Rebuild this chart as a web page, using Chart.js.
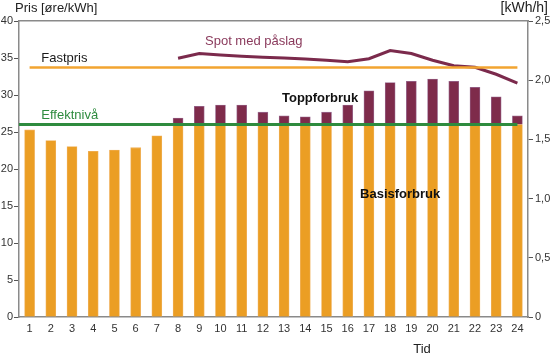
<!DOCTYPE html>
<html>
<head>
<meta charset="utf-8">
<script src="https://cdn.jsdelivr.net/npm/chart.js@4/dist/chart.umd.min.js"></script>
<style>
  html, body { margin: 0; padding: 0; background: #fff; }
  #wrap { width: 550px; height: 354px; }
</style>
</head>
<body>
<div id="wrap"><canvas id="chart"></canvas></div>
<script>
// ====== DATA ======
const hours = [1, 2, 3, 4, 5, 6, 7, 8, 9, 10, 11, 12, 13, 14, 15, 16, 17, 18, 19, 20, 21, 22, 23, 24];
// total forbruk per time [kWh/h]
const forbruk = [1.58, 1.49, 1.44, 1.40, 1.41, 1.43, 1.53, 1.68, 1.78, 1.79, 1.79, 1.73,
                 1.70, 1.69, 1.73, 1.79, 1.91, 1.98, 1.99, 2.01, 1.99, 1.94, 1.86, 1.70];
const effektniva = 1.625;      // kWh/h
const fastpris = 33.7;         // øre/kWh
const spotHours = [8, 9, 10, 11, 12, 13, 14, 15, 16, 17, 18, 19, 20, 21, 22, 23, 24];
const spotPris = [34.96, 35.6, 35.4, 35.25, 35.1, 35.0, 34.85, 34.7, 34.5, 34.9, 36.0, 35.6, 34.7, 33.95, 33.75, 32.8, 31.6];
const leftTicks = [0, 5, 10, 15, 20, 25, 30, 35, 40];
const rightTicks = [0, 0.5, 1.0, 1.5, 2.0, 2.5];

// Basis = opp til effektnivå, topp = resten
const basis = forbruk.map(v => Math.min(v, effektniva));
const topp = forbruk.map((v, i) => v - basis[i]);

const FONT = '"Liberation Sans", Arial, Helvetica, sans-serif';
const AXIS = '#8a8a8a';

// tekster i diagrammet
const textPlugin = {
  id: 'texts',
  afterDatasetsDraw(chart) {
    const { ctx, scales, chartArea } = chart;
    const x = scales.x, y = scales.y;
    ctx.save();
    ctx.textBaseline = 'middle';
    ctx.textAlign = 'left';
    const put = (txt, xv, yv, color, bold) => {
      ctx.font = (bold ? 'bold ' : '') + '13px ' + FONT;
      ctx.fillStyle = color;
      ctx.fillText(txt, x.getPixelForValue(xv), y.getPixelForValue(yv));
    };
    put('Fastpris', 1.55, 34.9, '#1a1a1a', false);
    put('Effektnivå', 1.55, 27.3, '#2e8b3e', false);
    put('Spot med påslag', 9.27, 37.2, '#8a3a5c', false);
    put('Toppforbruk', 12.9, 29.6, '#111', true);
    put('Basisforbruk', 16.58, 16.5, '#111', true);

    ctx.font = '13px ' + FONT;
    ctx.fillStyle = '#222';
    ctx.fillText('Pris [øre/kWh]', chartArea.left - 4, chartArea.top - 13);
    ctx.textAlign = 'center';
    ctx.fillText('Tid', x.getPixelForValue(19.5), chartArea.bottom + 32);
    ctx.textAlign = 'right';
    ctx.font = '14px ' + FONT;
    ctx.fillText('[kWh/h]', chartArea.right + 20, chartArea.top - 13);
    ctx.restore();
  }
};

new Chart(document.getElementById('chart'), {
  data: {
    datasets: [
      {
        type: 'line', label: 'Fastpris', yAxisID: 'y', order: 1,
        data: [{ x: hours[0], y: fastpris }, { x: hours[hours.length - 1], y: fastpris }],
        borderColor: '#f2a431', borderWidth: 2.5, pointRadius: 0
      },
      {
        type: 'line', label: 'Effektnivå', yAxisID: 'y2', order: 1,
        data: [{ x: 0.5, y: effektniva }, { x: hours[hours.length - 1], y: effektniva }],
        borderColor: '#2e8b3e', borderWidth: 3, pointRadius: 0
      },
      {
        type: 'line', label: 'Spot med påslag', yAxisID: 'y', order: 1,
        data: spotHours.map((h, i) => ({ x: h, y: spotPris[i] })),
        borderColor: '#7b2a4c', borderWidth: 3, pointRadius: 0, tension: 0
      },
      {
        type: 'bar', label: 'Basisforbruk', yAxisID: 'y2', stack: 's', order: 2,
        data: hours.map((h, i) => ({ x: h, y: basis[i] })),
        backgroundColor: '#eb9e24', borderColor: '#f0b15a', borderWidth: 0.8, barThickness: 10
      },
      {
        type: 'bar', label: 'Toppforbruk', yAxisID: 'y2', stack: 's', order: 2,
        data: hours.map((h, i) => ({ x: h, y: topp[i] })),
        backgroundColor: '#7e2b4b', borderColor: '#9a6a90', borderWidth: 0.8, barThickness: 10
      }
    ]
  },
  options: {
    responsive: true,
    maintainAspectRatio: false,
    animation: false,
    layout: { padding: { top: 21, left: 0, right: 0, bottom: 0 } },
    plugins: { legend: { display: false }, tooltip: { enabled: false } },
    scales: {
      x: {
        type: 'linear', min: 0.5, max: 24.5, offset: false,
        afterBuildTicks: s => { s.ticks = hours.map(v => ({ value: v })); },
        afterFit: s => { s.height = 37; },
        grid: { display: false, drawTicks: false },
        border: { color: AXIS, width: 1.5 },
        ticks: { color: '#333', font: { size: 11, family: FONT }, padding: 5 }
      },
      x2: {
        type: 'linear', position: 'top', min: 0.5, max: 24.5, offset: false,
        afterFit: s => { s.height = 0; },
        grid: { display: false, drawTicks: false },
        border: { color: AXIS, width: 1.5 },
        ticks: { display: false }
      },
      y: {
        position: 'left', min: 0, max: 40,
        afterBuildTicks: s => { s.ticks = leftTicks.map(v => ({ value: v })); },
        afterFit: s => { s.width = 19; },
        grid: { drawOnChartArea: false, color: '#555', tickLength: 5 },
        border: { color: AXIS, width: 1.5 },
        ticks: { color: '#333', font: { size: 11, family: FONT }, padding: 1 }
      },
      y2: {
        position: 'right', min: 0, max: 2.5, stacked: true,
        afterBuildTicks: s => { s.ticks = rightTicks.map(v => ({ value: v })); },
        afterFit: s => { s.width = 22; },
        grid: { drawOnChartArea: false, color: '#555', tickLength: 5 },
        border: { color: AXIS, width: 1.5 },
        ticks: {
          color: '#333', font: { size: 11, family: FONT }, padding: 2,
          callback: v => v === 0 ? '0' : v.toFixed(1).replace('.', ',')
        }
      }
    }
  },
  plugins: [textPlugin]
});
</script>
</body>
</html>
